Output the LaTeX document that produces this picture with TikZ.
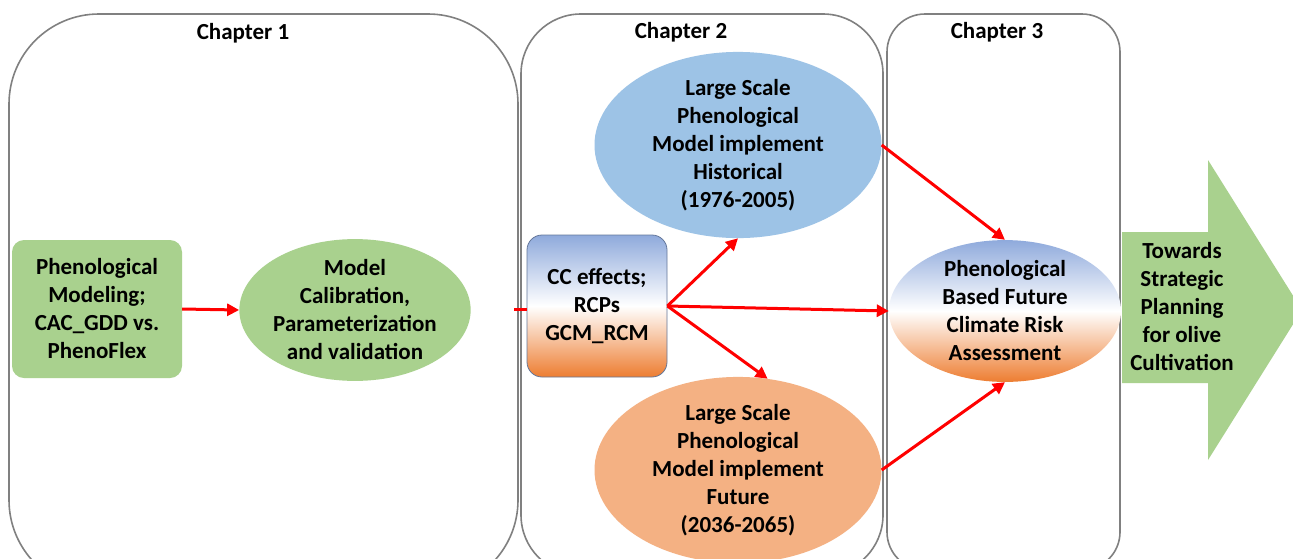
\documentclass[tikz,border=0pt]{standalone}
\usepackage{fontspec}
\setmainfont{Carlito}
\usetikzlibrary{shapes.geometric,arrows.meta}
\definecolor{chgray}{HTML}{808080}
\definecolor{lgreen}{HTML}{A9D18E}
\definecolor{lblue}{HTML}{9DC3E6}
\definecolor{lorange}{HTML}{F4B183}
\definecolor{gblue}{HTML}{8FAADC}
\definecolor{gorange}{HTML}{ED7D31}
\definecolor{ared}{HTML}{FF0000}
\tikzset{
  chapter/.style={draw=chgray, line width=1.6pt},
  ctitle/.style={font=\bfseries\fontsize{23}{26}\selectfont},
  txt/.style={align=center, font=\bfseries\fontsize{23}{28}\selectfont, text=black},
  ell/.style={ellipse, inner sep=0pt, txt},
  redarrow/.style={draw=ared, line width=3pt, -{Triangle[length=12pt,width=12pt]}},
  redline/.style={draw=ared, line width=3pt},
  grad/.style={top color=gblue, bottom color=gorange, middle color=white},
}
\begin{document}
\begin{tikzpicture}[x=1pt,y=-1pt]
\useasboundingbox (0,0) rectangle (1293,558);
\clip (0,0) rectangle (1293,558);
\fill[white] (0,0) rectangle (1293,558);
% chapter frames
\draw[chapter, rounded corners=90pt] (9,14) rectangle (518,590);
\draw[chapter, rounded corners=60pt] (521,14) rectangle (883,575);
\draw[chapter, rounded corners=38pt] (887,14) rectangle (1120,570);
\node[ctitle] (t1) at (243,33) {Chapter 1};
\node[ctitle] (t2) at (681,32) {Chapter 2};
\node[ctitle] (t3) at (997,32) {Chapter 3};
% chapter 1
\node[txt, fill=lgreen, rounded corners=12pt, minimum width=170pt, minimum height=138pt, inner sep=0pt] (pm) at (97,309)
  {Phenological\\Modeling;\\CAC\_GDD vs.\\PhenoFlex};
\node[ell, fill=lgreen, minimum width=224pt, minimum height=136pt] (mc) at (355,310)
  {Model\\Calibration,\\Parameterization\\and validation};
\draw[redarrow] (pm.east) -- (mc.west);
% chapter 2
\node[txt, draw=gblue!70!black, line width=0.8pt, rounded corners=15pt, grad,
  minimum width=140pt, minimum height=142pt, inner sep=0pt] (cc) at (597,306)
  {CC effects;\\RCPs\\GCM\_RCM};
\coordinate (cin) at (514,309);
\draw[redline] (cin) -- (cc.west |- cin);
\node[ell, fill=lblue, minimum width=287pt, minimum height=134pt] (hist) at (738,145)
  {Large Scale\\Phenological\\Model implement\\Historical\\(1976-2005)};
\node[ell, fill=lorange, minimum width=287pt, minimum height=134pt] (fut) at (738,470)
  {Large Scale\\Phenological\\Model implement\\Future\\(2036-2065)};
% chapter 3
\node[ell, grad, minimum width=232pt, minimum height=127pt] (risk) at (1005,311)
  {Phenological\\Based Future\\Climate Risk\\Assessment};
\draw[redarrow] (cc.east) -- (hist.south);
\draw[redarrow] (cc.east) -- (risk.west);
\draw[redarrow] (cc.east) -- (fut.72);
\draw[redarrow] (hist.east) -- (risk.north);
\draw[redarrow] (fut.east) -- (risk.south);
% outcome arrow
\fill[lgreen] (1122,232) -- (1208,232) -- (1208,160) -- (1302,310) -- (1208,460) -- (1208,383) -- (1122,383) -- cycle;
\node[txt] (tw) at (1182,307) {Towards\\Strategic\\Planning\\for olive\\Cultivation};
\end{tikzpicture}
\end{document}
